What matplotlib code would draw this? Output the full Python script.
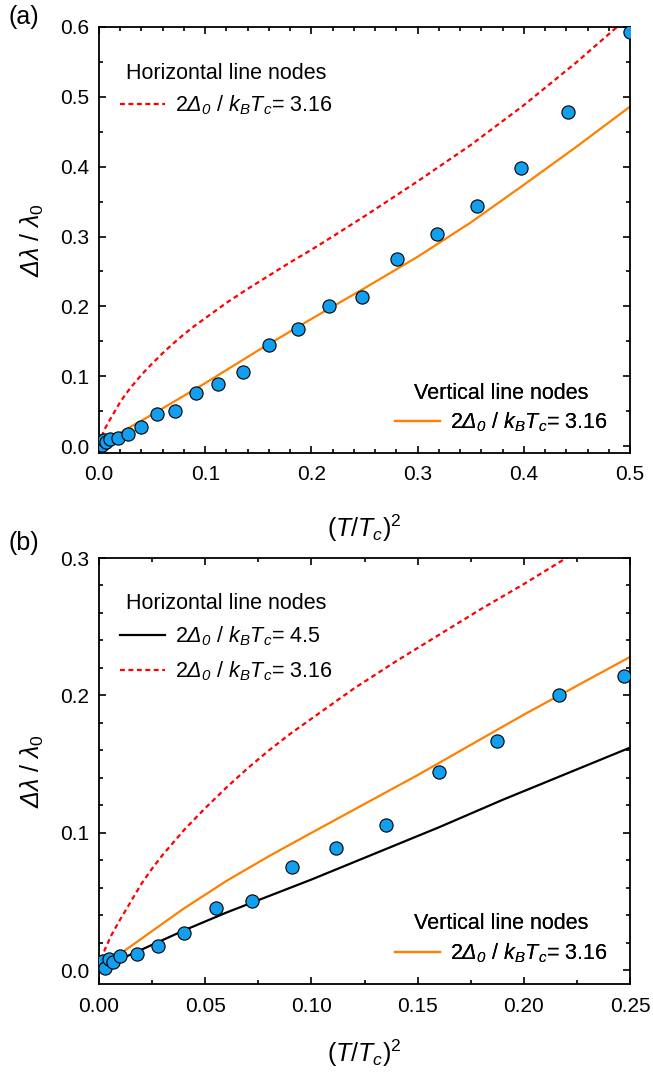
import numpy as np
import matplotlib
matplotlib.use('Agg')
import matplotlib.pyplot as plt
from matplotlib.ticker import MultipleLocator, FormatStrFormatter

plt.rcParams['font.family'] = ['Liberation Sans', 'DejaVu Sans']
plt.rcParams['mathtext.fontset'] = 'custom'
plt.rcParams['mathtext.rm'] = 'Liberation Sans'
plt.rcParams['mathtext.it'] = 'Liberation Sans:italic'
plt.rcParams['mathtext.sf'] = 'Liberation Sans:italic'
plt.rcParams['mathtext.bf'] = 'Liberation Sans:bold'

# measured penetration depth, (T/Tc)^2 vs dlambda/lambda0
t2 = [0.001, 0.002, 0.003, 0.0045, 0.0065, 0.010, 0.018, 0.0276, 0.040, 0.0549,
      0.0718, 0.091, 0.1117, 0.1353, 0.160, 0.1874, 0.2166, 0.2473, 0.281, 0.318,
      0.356, 0.397, 0.4416, 0.500]
dl = [0.004, 0.007, 0.002, 0.008, 0.006, 0.0105, 0.012, 0.0176, 0.027, 0.0455,
      0.0506, 0.0755, 0.089, 0.106, 0.144, 0.167, 0.200, 0.214, 0.268, 0.304,
      0.343, 0.398, 0.478, 0.593]

# horizontal line nodes, 2D0/kTc = 3.16 (both panels)
hor316_x = [0, 0.001, 0.003, 0.006, 0.01, 0.015, 0.02, 0.025, 0.03, 0.04, 0.05,
            0.06, 0.07, 0.08, 0.09, 0.10, 0.12, 0.14, 0.16, 0.18, 0.20, 0.22,
            0.25, 0.30, 0.35, 0.40, 0.45, 0.49]
hor316_y = [0.002, 0.008, 0.016, 0.026, 0.037, 0.050, 0.063, 0.074, 0.084, 0.102,
            0.118, 0.133, 0.147, 0.160, 0.172, 0.183, 0.205, 0.225, 0.244, 0.263,
            0.281, 0.300, 0.329, 0.379, 0.431, 0.488, 0.550, 0.603]

# vertical line nodes, panel (a)
vert_a_x = [0, 0.005, 0.01, 0.02, 0.05, 0.10, 0.15, 0.20, 0.25, 0.30, 0.35, 0.40,
            0.45, 0.50]
vert_a_y = [0.002, 0.006, 0.010, 0.019, 0.045, 0.090, 0.137, 0.182, 0.226, 0.271,
            0.320, 0.374, 0.429, 0.486]

# vertical line nodes, panel (b)
vert_b_x = [0, 0.005, 0.01, 0.02, 0.04, 0.06, 0.08, 0.10, 0.125, 0.15, 0.175, 0.20,
            0.225, 0.25]
vert_b_y = [0.002, 0.006, 0.012, 0.023, 0.045, 0.065, 0.083, 0.100, 0.121, 0.142,
            0.164, 0.186, 0.207, 0.228]

# horizontal line nodes, 2D0/kTc = 4.5
hor45_x = [0, 0.01, 0.02, 0.03, 0.04, 0.06, 0.08, 0.10, 0.13, 0.16, 0.19, 0.22, 0.25]
hor45_y = [0.002, 0.008, 0.015, 0.022, 0.029, 0.042, 0.054, 0.066, 0.085, 0.104,
           0.124, 0.143, 0.162]

lab316 = r'2$\mathsf{\Delta}_{\mathsf{0}}$ / $k_BT_c$= 3.16'
lab45 = r'2$\mathsf{\Delta}_{\mathsf{0}}$ / $k_BT_c$= 4.5'

c_pt = '#139ff0'
c_or = '#ff8000'
c_red = '#ff0000'
dash = (0, (2.2, 1.6))

fig = plt.figure(figsize=(6.53, 10.74), dpi=100)
ax1 = fig.add_axes([99/653, 1-453/1074, 531/653, 426/1074])
ax2 = fig.add_axes([99/653, 1-984/1074, 531/653, 426/1074])


def style(ax):
    for s in ax.spines.values():
        s.set_linewidth(1.3)
    ax.tick_params(which='both', direction='in', top=True, right=True,
                   width=1.2, labelsize=15, pad=7)
    ax.tick_params(axis='x', which='both', pad=9)
    ax.tick_params(which='major', length=5)
    ax.tick_params(which='minor', length=3)


def leg(ax, handles, title, loc, anchor, spacing):
    lg = ax.legend(handles=handles, title=title, loc=loc, bbox_to_anchor=anchor,
                   frameon=False, fontsize=15.5, title_fontsize=15.5, borderpad=0,
                   borderaxespad=0, handlelength=2.1, handletextpad=0.45,
                   labelspacing=spacing)
    ax.add_artist(lg)
    return lg


# panel (a)
r1, = ax1.plot(hor316_x, hor316_y, color=c_red, lw=1.6, ls=dash, label=lab316)
o1, = ax1.plot(vert_a_x, vert_a_y, color=c_or, lw=1.6, label=lab316)
ax1.plot(t2, dl, 'o', ms=9.5, mfc=c_pt, mec='black', mew=0.8, zorder=5)
ax1.set_xlim(0, 0.5)
ax1.set_ylim(-0.01, 0.6)
ax1.xaxis.set_major_locator(MultipleLocator(0.1))
ax1.xaxis.set_minor_locator(MultipleLocator(0.02))
ax1.yaxis.set_major_locator(MultipleLocator(0.1))
ax1.yaxis.set_minor_locator(MultipleLocator(0.05))
ax1.xaxis.set_major_formatter(FormatStrFormatter('%.1f'))
ax1.yaxis.set_major_formatter(FormatStrFormatter('%.1f'))
style(ax1)
leg(ax1, [r1], 'Horizontal line nodes', 'upper left', (0.04, 0.915), 0.45)
leg(ax1, [o1], 'Vertical line nodes', 'lower right', (0.958, 0.045), 0.3)

# panel (b)
k2, = ax2.plot(hor45_x, hor45_y, color='black', lw=1.6, label=lab45)
r2, = ax2.plot(hor316_x, hor316_y, color=c_red, lw=1.6, ls=dash, label=lab316)
o2, = ax2.plot(vert_b_x, vert_b_y, color=c_or, lw=1.6, label=lab316)
ax2.plot(t2, dl, 'o', ms=9.5, mfc=c_pt, mec='black', mew=0.8, zorder=5)
ax2.set_xlim(0, 0.25)
ax2.set_ylim(-0.01, 0.3)
ax2.xaxis.set_major_locator(MultipleLocator(0.05))
ax2.xaxis.set_minor_locator(MultipleLocator(0.025))
ax2.yaxis.set_major_locator(MultipleLocator(0.1))
ax2.yaxis.set_minor_locator(MultipleLocator(0.02))
ax2.xaxis.set_major_formatter(FormatStrFormatter('%.2f'))
ax2.yaxis.set_major_formatter(FormatStrFormatter('%.1f'))
style(ax2)
leg(ax2, [k2, r2], 'Horizontal line nodes', 'upper left', (0.04, 0.918), 0.5)
leg(ax2, [o2], 'Vertical line nodes', 'lower right', (0.958, 0.045), 0.35)

for ax, ly in ((ax1, -0.14), (ax2, -0.125)):
    ax.set_xlabel(r'$(T/T_c)^2$', fontsize=18)
    ax.xaxis.set_label_coords(0.5, ly)
    ax.set_ylabel(r'$\mathsf{\Delta\lambda}$ / $\mathsf{\lambda}_0$', fontsize=18)
    ax.yaxis.set_label_coords(-0.10, 0.5)

fig.text(24/653, 1-17/1074, '(a)', fontsize=18, ha='center', va='center')
fig.text(24/653, 1-543/1074, '(b)', fontsize=18, ha='center', va='center')

fig.savefig('out.png', dpi=100)
